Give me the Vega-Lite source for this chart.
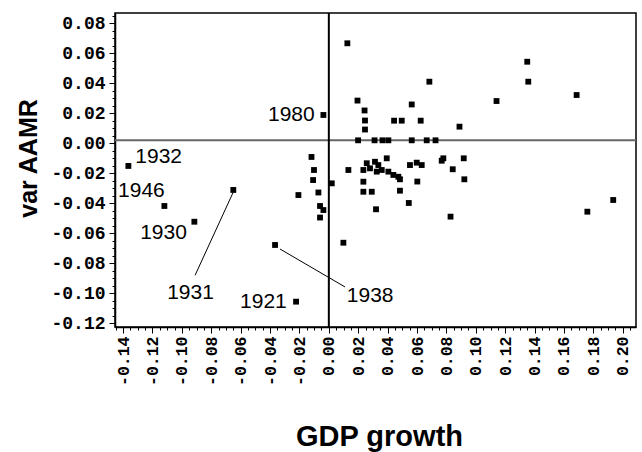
{
  "$schema": "https://vega.github.io/schema/vega-lite/v6.json",
  "width": 521,
  "height": 314,
  "autosize": {"type": "none"},
  "padding": {"left": 115, "top": 13, "right": 6, "bottom": 125},
  "background": "white",
  "config": {
    "view": {"stroke": "black", "strokeWidth": 1.5},
    "axis": {"grid": false, "domainColor": "black", "domainWidth": 1.5, "tickColor": "black", "tickWidth": 1, "labelColor": "black", "titleColor": "black"}
  },
  "datasets": {
    "points": [
      {"gdp_growth": -0.1364, "var_aamr": -0.0151},
      {"gdp_growth": -0.1119, "var_aamr": -0.0418},
      {"gdp_growth": -0.0915, "var_aamr": -0.0523},
      {"gdp_growth": -0.065, "var_aamr": -0.0311},
      {"gdp_growth": -0.0366, "var_aamr": -0.0678},
      {"gdp_growth": -0.0223, "var_aamr": -0.1056},
      {"gdp_growth": -0.0037, "var_aamr": 0.0189},
      {"gdp_growth": -0.0207, "var_aamr": -0.0345},
      {"gdp_growth": -0.0118, "var_aamr": -0.0091},
      {"gdp_growth": -0.0101, "var_aamr": -0.0178},
      {"gdp_growth": -0.0107, "var_aamr": -0.0245},
      {"gdp_growth": -0.0071, "var_aamr": -0.0328},
      {"gdp_growth": -0.006, "var_aamr": -0.0418},
      {"gdp_growth": -0.0037, "var_aamr": -0.0445},
      {"gdp_growth": -0.006, "var_aamr": -0.0495},
      {"gdp_growth": 0.002, "var_aamr": -0.0267},
      {"gdp_growth": 0.0126, "var_aamr": 0.0667},
      {"gdp_growth": 0.0195, "var_aamr": 0.0285},
      {"gdp_growth": 0.0243, "var_aamr": 0.0219},
      {"gdp_growth": 0.0246, "var_aamr": 0.0152},
      {"gdp_growth": 0.0246, "var_aamr": 0.0092},
      {"gdp_growth": 0.0199, "var_aamr": 0.002},
      {"gdp_growth": 0.0311, "var_aamr": 0.002},
      {"gdp_growth": 0.0365, "var_aamr": 0.002},
      {"gdp_growth": 0.0405, "var_aamr": 0.002},
      {"gdp_growth": 0.0564, "var_aamr": 0.002},
      {"gdp_growth": 0.0666, "var_aamr": 0.002},
      {"gdp_growth": 0.0726, "var_aamr": 0.002},
      {"gdp_growth": 0.0564, "var_aamr": 0.0259},
      {"gdp_growth": 0.0444, "var_aamr": 0.0151},
      {"gdp_growth": 0.0496, "var_aamr": 0.0151},
      {"gdp_growth": 0.0625, "var_aamr": 0.0151},
      {"gdp_growth": 0.0684, "var_aamr": 0.0411},
      {"gdp_growth": 0.0889, "var_aamr": 0.0111},
      {"gdp_growth": 0.1141, "var_aamr": 0.0282},
      {"gdp_growth": 0.135, "var_aamr": 0.0544},
      {"gdp_growth": 0.1357, "var_aamr": 0.0411},
      {"gdp_growth": 0.1686, "var_aamr": 0.0322},
      {"gdp_growth": 0.1759, "var_aamr": -0.0456},
      {"gdp_growth": 0.1935, "var_aamr": -0.0378},
      {"gdp_growth": 0.0133, "var_aamr": -0.0178},
      {"gdp_growth": 0.0099, "var_aamr": -0.0663},
      {"gdp_growth": 0.0235, "var_aamr": -0.0178},
      {"gdp_growth": 0.0258, "var_aamr": -0.0133},
      {"gdp_growth": 0.028, "var_aamr": -0.0167},
      {"gdp_growth": 0.0314, "var_aamr": -0.0123},
      {"gdp_growth": 0.0337, "var_aamr": -0.0145},
      {"gdp_growth": 0.0326, "var_aamr": -0.0189},
      {"gdp_growth": 0.036, "var_aamr": -0.0178},
      {"gdp_growth": 0.0405, "var_aamr": -0.0189},
      {"gdp_growth": 0.0439, "var_aamr": -0.0211},
      {"gdp_growth": 0.0473, "var_aamr": -0.0223},
      {"gdp_growth": 0.0484, "var_aamr": -0.024},
      {"gdp_growth": 0.0394, "var_aamr": -0.01},
      {"gdp_growth": 0.0235, "var_aamr": -0.0256},
      {"gdp_growth": 0.0235, "var_aamr": -0.0323},
      {"gdp_growth": 0.0292, "var_aamr": -0.0323},
      {"gdp_growth": 0.0321, "var_aamr": -0.044},
      {"gdp_growth": 0.0484, "var_aamr": -0.0316},
      {"gdp_growth": 0.0544, "var_aamr": -0.0398},
      {"gdp_growth": 0.0552, "var_aamr": -0.0145},
      {"gdp_growth": 0.0598, "var_aamr": -0.0129},
      {"gdp_growth": 0.0632, "var_aamr": -0.0145},
      {"gdp_growth": 0.0602, "var_aamr": -0.0255},
      {"gdp_growth": 0.0768, "var_aamr": -0.0116},
      {"gdp_growth": 0.0779, "var_aamr": -0.01},
      {"gdp_growth": 0.0918, "var_aamr": -0.01},
      {"gdp_growth": 0.0843, "var_aamr": -0.0173},
      {"gdp_growth": 0.0922, "var_aamr": -0.024},
      {"gdp_growth": 0.0828, "var_aamr": -0.0489}
    ],
    "labels": [
      {"year": "1932", "gdp_growth": -0.1317, "var_aamr": -0.0088},
      {"year": "1946", "gdp_growth": -0.1434, "var_aamr": -0.0321},
      {"year": "1930", "gdp_growth": -0.1284, "var_aamr": -0.0601},
      {"year": "1931", "gdp_growth": -0.110, "var_aamr": -0.1001},
      {"year": "1938", "gdp_growth": 0.0122, "var_aamr": -0.1018},
      {"year": "1921", "gdp_growth": -0.0604, "var_aamr": -0.1055},
      {"year": "1980", "gdp_growth": -0.0414, "var_aamr": 0.0189}
    ],
    "leaders": [
      {"year": "1931", "gdp_growth": -0.065, "var_aamr": -0.0325, "gdp_growth_end": -0.091, "var_aamr_end": -0.088},
      {"year": "1938", "gdp_growth": -0.0332, "var_aamr": -0.0705, "gdp_growth_end": 0.011, "var_aamr_end": -0.0958}
    ],
    "hline": [
      {"gdp_growth": -0.1455, "gdp_growth_end": 0.209, "var_aamr": 0.002}
    ],
    "vline": [
      {"gdp_growth": 0, "var_aamr": -0.1225, "var_aamr_end": 0.0869}
    ]
  },
  "encoding": {
    "x": {
      "field": "gdp_growth", "type": "quantitative",
      "scale": {"domain": [-0.1455, 0.209], "nice": false, "zero": false},
      "axis": {
        "title": "GDP growth",
        "values": [-0.145,-0.14,-0.135,-0.13,-0.125,-0.12,-0.115,-0.11,-0.105,-0.1,-0.095,-0.09,-0.085,-0.08,-0.075,-0.07,-0.065,-0.06,-0.055,-0.05,-0.045,-0.04,-0.035,-0.03,-0.025,-0.02,-0.015,-0.01,-0.005,0,0.005,0.01,0.015,0.02,0.025,0.03,0.035,0.04,0.045,0.05,0.055,0.06,0.065,0.07,0.075,0.08,0.085,0.09,0.095,0.1,0.105,0.11,0.115,0.12,0.125,0.13,0.135,0.14,0.145,0.15,0.155,0.16,0.165,0.17,0.175,0.18,0.185,0.19,0.195,0.2,0.205],
        "labelExpr": "abs(datum.value*50-round(datum.value*50))<0.01 ? replace(format(datum.value,'.2f'),'\u2212','-') : ''",
        "tickSize": {"condition": {"test": "abs(datum.value*50-round(datum.value*50))<0.01", "value": 6}, "value": 3},
        "labelAngle": 270,
        "labelFont": "Liberation Mono",
        "labelFontWeight": "bold",
        "labelFontSize": 16.5,
        "labelPadding": 3,
        "labelOverlap": false,
        "labelFlush": false,
        "labelBound": false,
        "titleFont": "Liberation Sans",
        "titleFontWeight": "bold",
        "titleFontSize": 29,
        "titleX": 264,
        "titleY": 118,
        "titleAlign": "center",
        "titleBaseline": "alphabetic"
      }
    },
    "y": {
      "field": "var_aamr", "type": "quantitative",
      "scale": {"domain": [-0.1225, 0.0869], "nice": false, "zero": false},
      "axis": {
        "title": "var AAMR",
        "values": [-0.12,-0.115,-0.11,-0.105,-0.1,-0.095,-0.09,-0.085,-0.08,-0.075,-0.07,-0.065,-0.06,-0.055,-0.05,-0.045,-0.04,-0.035,-0.03,-0.025,-0.02,-0.015,-0.01,-0.005,0,0.005,0.01,0.015,0.02,0.025,0.03,0.035,0.04,0.045,0.05,0.055,0.06,0.065,0.07,0.075,0.08,0.085],
        "labelExpr": "abs(datum.value*50-round(datum.value*50))<0.01 ? replace(format(datum.value,'.2f'),'\u2212','-') : ''",
        "tickSize": {"condition": {"test": "abs(datum.value*50-round(datum.value*50))<0.01", "value": 6}, "value": 3},
        "labelFont": "Liberation Mono",
        "labelFontWeight": "bold",
        "labelFontSize": 18,
        "labelPadding": 4,
        "labelOverlap": false,
        "labelFlush": false,
        "labelBound": false,
        "titleFont": "Liberation Sans",
        "titleFontWeight": "bold",
        "titleFontSize": 25,
        "titleAngle": 270,
        "titleX": -79,
        "titleY": 145,
        "titleAlign": "center",
        "titleBaseline": "alphabetic"
      }
    }
  },
  "layer": [
    {
      "data": {"name": "hline"},
      "mark": {"type": "rule", "color": "#666666", "strokeWidth": 2},
      "encoding": {"x2": {"field": "gdp_growth_end"}}
    },
    {
      "data": {"name": "vline"},
      "mark": {"type": "rule", "color": "black", "strokeWidth": 2},
      "encoding": {"y2": {"field": "var_aamr_end"}}
    },
    {
      "data": {"name": "leaders"},
      "mark": {"type": "rule", "color": "black", "strokeWidth": 1},
      "encoding": {"x2": {"field": "gdp_growth_end"}, "y2": {"field": "var_aamr_end"}}
    },
    {
      "data": {"name": "points"},
      "mark": {"type": "point", "shape": "square", "filled": true, "color": "black", "size": 34, "opacity": 1},
      "encoding": {}
    },
    {
      "data": {"name": "labels"},
      "mark": {"type": "text", "align": "left", "baseline": "middle", "font": "Liberation Sans", "fontSize": 21, "color": "black"},
      "encoding": {"text": {"field": "year"}}
    }
  ]
}
